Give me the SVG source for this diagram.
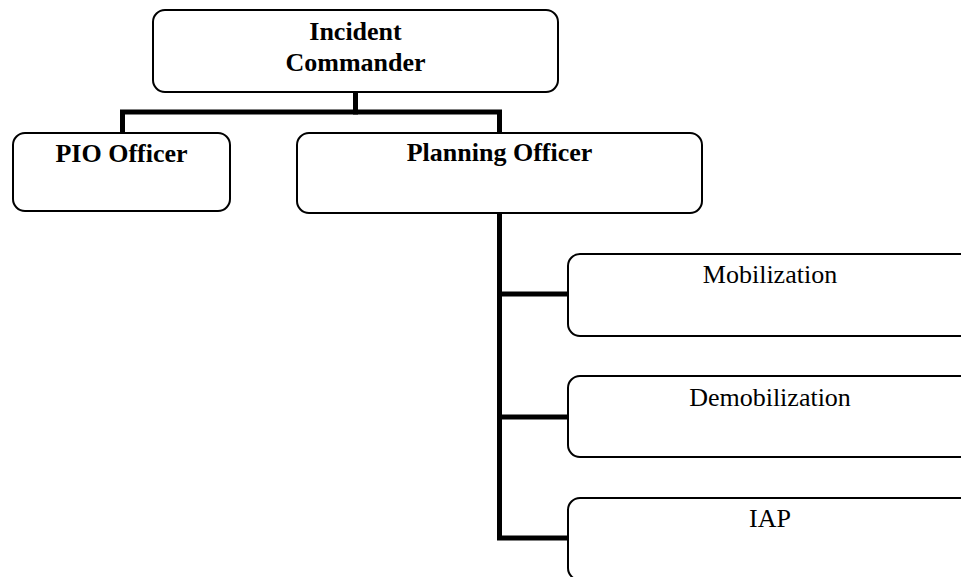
<svg xmlns="http://www.w3.org/2000/svg" width="961" height="577" viewBox="0 0 961 577">
<style>
.box{fill:#fff;stroke:#000;stroke-width:2}
.b{font-family:"Liberation Serif","Times New Roman",serif;font-size:26px;font-weight:bold;text-anchor:middle;fill:#000}
.r{font-family:"Liberation Serif","Times New Roman",serif;font-size:26px;text-anchor:middle;fill:#000}
.c{fill:none;stroke:#000;stroke-width:5;stroke-linejoin:miter;stroke-linecap:square}
</style>
<rect width="961" height="577" fill="#fff"/>
<g id="connectors">
<path class="c" d="M355.5 93 V112"/>
<path class="c" d="M122.5 132 V112 H499.5 V132"/>
<path class="c" d="M499.5 213 V538 H567"/>
<path class="c" d="M499.5 294 H567"/>
<path class="c" d="M499.5 417 H567"/>
</g>
<g id="incident-commander">
<rect class="box" x="153" y="10" width="405" height="82" rx="12"/>
<text class="b" x="355.5" y="40">Incident</text>
<text class="b" x="355.5" y="71">Commander</text>
</g>
<g id="pio-officer">
<rect class="box" x="13" y="133" width="217" height="78" rx="12"/>
<text class="b" x="121.5" y="162">PIO Officer</text>
</g>
<g id="planning-officer">
<rect class="box" x="297" y="133" width="405" height="80" rx="12"/>
<text class="b" x="499.5" y="161">Planning Officer</text>
</g>
<g id="mobilization">
<rect class="box" x="568" y="254" width="404" height="82" rx="12"/>
<text class="r" x="770" y="283">Mobilization</text>
</g>
<g id="demobilization">
<rect class="box" x="568" y="376" width="404" height="81" rx="12"/>
<text class="r" x="770" y="406">Demobilization</text>
</g>
<g id="iap">
<rect class="box" x="568" y="498" width="404" height="82" rx="12"/>
<text class="r" x="770" y="527">IAP</text>
</g>
</svg>
